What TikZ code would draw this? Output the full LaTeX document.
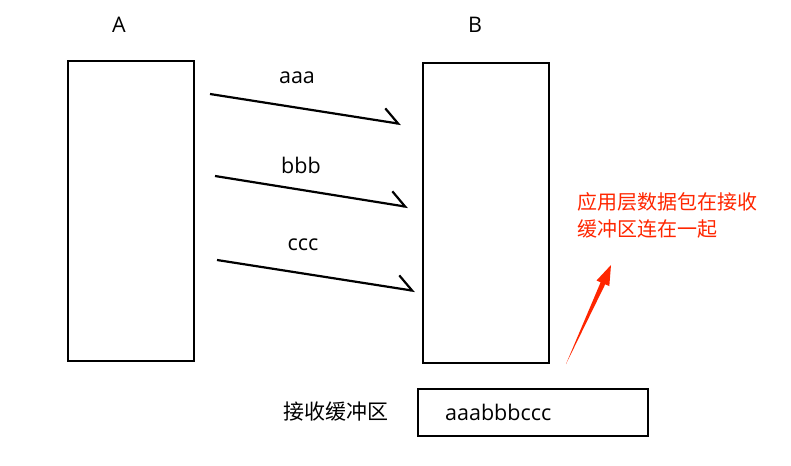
\documentclass[tikz,border=0pt]{standalone}
\usepackage{fontspec}
\setmainfont{Open Sans}
\newfontfamily\cjk{Noto Sans CJK SC}
\usetikzlibrary{arrows.meta}
\definecolor{redtxt}{RGB}{255,38,0}
\tikzset{
  box/.style={draw=black, line width=2pt, fill=white},
  lbl/.style={font=\fontsize{21.5}{24}\selectfont, inner sep=0pt},
  msg/.style={line width=2.2pt, -{Straight Barb[left, length=15pt, width=26pt, line width=2.2pt]}},
  note/.style={font=\cjk\fontsize{20}{27}\selectfont, text=redtxt, align=left, inner sep=0pt},
}
\begin{document}
\begin{tikzpicture}[x=1pt,y=-1pt]
\useasboundingbox (0,0) rectangle (791,465);
\fill[white] (0,0) rectangle (791,465);
% boxes
\node[box, minimum width=126pt, minimum height=300pt, anchor=north west] (A) at (67,60) {};
\node[box, minimum width=126pt, minimum height=300pt, anchor=north west] (B) at (422,62) {};
\node[box, minimum width=230pt, minimum height=47pt, anchor=north west] (buf) at (417,388) {};
% titles
\node[lbl] (tA) at (119,25) {A};
\node[lbl] (tB) at (475,25) {B};
% messages
\coordinate (s1) at (210,94);  \coordinate (e1) at (401,124);
\coordinate (s2) at (215,176); \coordinate (e2) at (408,207);
\coordinate (s3) at (217,260); \coordinate (e3) at (415,291);
\draw[msg] (s1) -- (e1);
\draw[msg] (s2) -- (e2);
\draw[msg] (s3) -- (e3);
\node[lbl] (l1) at (297,78) {aaa};
\node[lbl] (l2) at (301,165) {bbb};
\node[lbl] (l3) at (303,245) {ccc};
% buffer
\node[lbl, anchor=west] (bufc) at (445,412) {aaabbbccc};
\node[font=\cjk\fontsize{21}{24}\selectfont, inner sep=0pt, anchor=east] (bufl) at (389,412) {接收缓冲区};
% note
\node[note, anchor=north west] (note) at (577,192) {应用层数据包在接收\\缓冲区连在一起};
% red tapered arrow
\coordinate (rt) at (566,364);
\coordinate (rh) at (611,265);
\fill[redtxt] (rt) -- (605.2,284.3) -- (609.3,286.1) -- (rh) -- (596.5,280.5) -- (600.6,282.3) -- cycle;
\end{tikzpicture}
\end{document}
